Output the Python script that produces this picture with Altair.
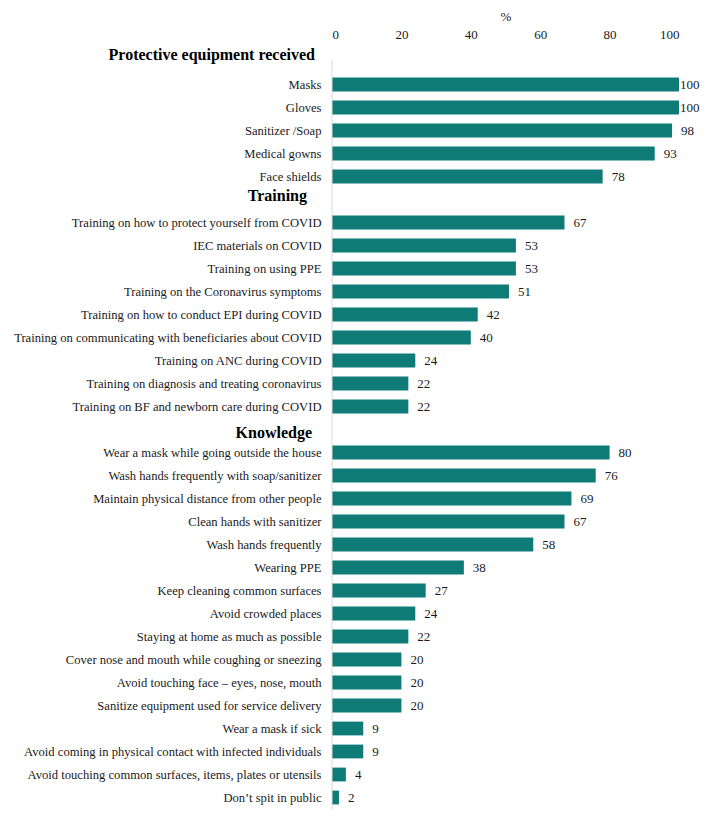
import altair as alt
import pandas as pd

groups = ["Protective equipment received", "Training", "Knowledge"]

protective_items = ["Masks", "Gloves", "Sanitizer /Soap", "Medical gowns", "Face shields"]
protective_values = [100, 100, 98, 93, 78]

training_items = [
    "Training on how to protect yourself from COVID",
    "IEC materials on COVID",
    "Training on using PPE",
    "Training on the Coronavirus symptoms",
    "Training on how to conduct EPI during COVID",
    "Training on communicating with beneficiaries about COVID",
    "Training on ANC during COVID",
    "Training on diagnosis and treating coronavirus",
    "Training on BF and newborn care during COVID",
]
training_values = [67, 53, 53, 51, 42, 40, 24, 22, 22]

knowledge_items = [
    "Wear a mask while going outside the house",
    "Wash hands frequently with soap/sanitizer",
    "Maintain physical distance from other people",
    "Clean hands with sanitizer",
    "Wash hands frequently",
    "Wearing PPE",
    "Keep cleaning common surfaces",
    "Avoid crowded places",
    "Staying at home as much as possible",
    "Cover nose and mouth while coughing or sneezing",
    "Avoid touching face \u2013 eyes, nose, mouth",
    "Sanitize equipment used for service delivery",
    "Wear a mask if sick",
    "Avoid coming in physical contact with infected individuals",
    "Avoid touching common surfaces, items, plates or utensils",
    "Don\u2019t spit in public",
]
knowledge_values = [80, 76, 69, 67, 58, 38, 27, 24, 22, 20, 20, 20, 9, 9, 4, 2]

rows = []
for g, items, vals in zip(groups,
                          [protective_items, training_items, knowledge_items],
                          [protective_values, training_values, knowledge_values]):
    rows.append({"row": g, "value": None, "kind": "heading"})
    for it, v in zip(items, vals):
        rows.append({"row": it, "value": v, "kind": "item"})
df = pd.DataFrame(rows)
order = list(df["row"])

FONT = "Liberation Serif"
BAR = "#0f7b77"

heading_test = "indexof(['Protective equipment received','Training','Knowledge'], datum.value) >= 0"

yscale = alt.Scale(paddingInner=0.4, paddingOuter=0.2)

base = alt.Chart(df)

bars = base.transform_filter("datum.kind == 'item'").mark_bar(color=BAR).encode(
    x=alt.X("value:Q", scale=alt.Scale(domain=[0, 100]),
            axis=alt.Axis(orient="top", title="%", values=[0, 20, 40, 60, 80, 100],
                          ticks=False, domain=False, grid=False,
                          labelFont=FONT, labelFontSize=13, labelColor="#1a1a1a",
                          labelPadding=9, titleFont=FONT, titleFontSize=13,
                          titleFontWeight="normal", titleColor="#1a1a1a", titlePadding=5)),
    y=alt.Y("row:N", sort=order, scale=yscale,
            axis=alt.Axis(title=None, domain=False, ticks=False, grid=False,
                          labelExpr=f"{heading_test} ? '' : datum.value",
                          labelFont=FONT, labelFontSize=12.6, labelColor="#1a1a1a",
                          labelPadding=11, labelLimit=500)),
)

labels_small = base.transform_filter("datum.kind == 'item' && datum.value < 100").mark_text(
    align="left", baseline="middle", dx=9, font=FONT, fontSize=13, color="#1a1a1a"
).encode(x="value:Q", y=alt.Y("row:N", sort=order), text="value:Q")

labels_full = base.transform_filter("datum.kind == 'item' && datum.value >= 100").mark_text(
    align="left", baseline="middle", dx=1, font=FONT, fontSize=13, color="#1a1a1a"
).encode(x="value:Q", y=alt.Y("row:N", sort=order), text="value:Q")

axis_line = alt.Chart(pd.DataFrame({"a": [0]})).mark_rule(color="#d9d9d9", strokeWidth=1).encode(
    x=alt.value(0), y=alt.value(10), y2=alt.value(760)
)

heading_style = {
    "Protective equipment received": (-17, -7),
    "Training": (-25, -4),
    "Knowledge": (-20, 3),
}
heading_layers = []
for g in groups:
    dxv, dyv = heading_style[g]
    heading_layers.append(
        base.transform_filter(alt.datum.row == g).mark_text(
            align="right", baseline="middle", font=FONT, fontSize=16,
            fontWeight="bold", color="#000000", dx=dxv, dy=dyv
        ).encode(x=alt.value(0), y=alt.Y("row:N", sort=order), text="row:N")
    )

chart = alt.layer(bars, labels_small, labels_full, axis_line, *heading_layers).properties(
    width=347, height=759,
    autosize=alt.AutoSizeParams(type="none"),
    padding={"left": 324, "top": 42, "right": 22, "bottom": 20},
    background="white",
).configure_view(stroke=None)

chart.save("out.html", embed_options={"renderer": "svg", "actions": False})
